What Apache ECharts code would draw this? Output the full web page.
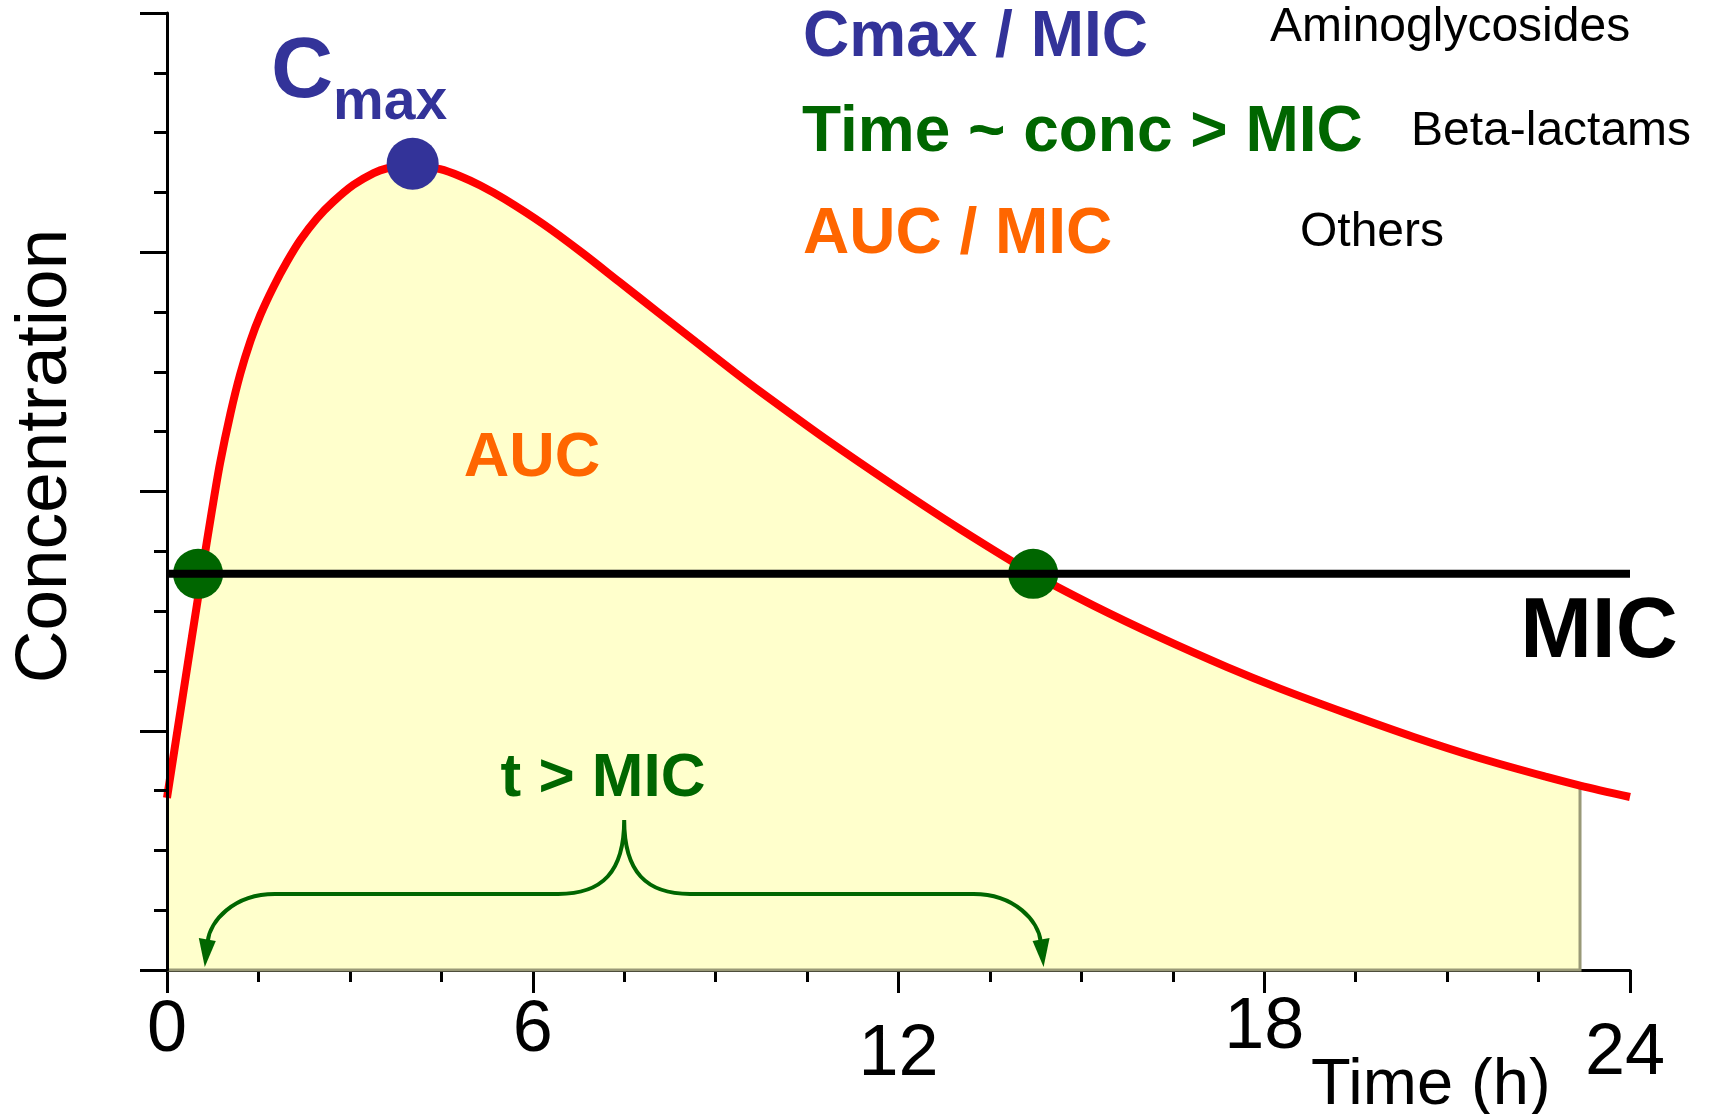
<!DOCTYPE html>
<html>
<head>
<meta charset="utf-8">
<title>PK/PD indices</title>
<script src="https://cdn.jsdelivr.net/npm/echarts@6/dist/echarts.min.js"></script>
<style>
  html, body { margin: 0; padding: 0; background: #fff; }
  #chart { width: 1712px; height: 1114px; }
</style>
</head>
<body>
<div id="chart"></div>
<script>
// values
const timeH = [0, 0.25, 0.57, 0.74, 0.87, 1.04, 1.20, 1.37, 1.53, 1.75, 1.97, 2.19, 2.46, 2.73,
  3.06, 3.39, 3.60, 4.03, 4.48, 4.81, 5.14, 5.54, 6.17, 6.80, 7.42, 8.05, 8.68, 9.31, 9.73,
  10.83, 11.92, 13.01, 14.21, 15.20, 16.29, 17.39, 18.26, 19.35, 20.45, 21.54, 22.63, 23.18, 24];
const concentration = [0.719, 1.13, 1.656, 1.925, 2.118, 2.325, 2.49, 2.63, 2.737, 2.857, 2.961, 3.052, 3.142, 3.212,
  3.282, 3.331, 3.350, 3.365, 3.347, 3.318, 3.279, 3.222, 3.118, 3.0, 2.876, 2.75, 2.624, 2.499, 2.418,
  2.215, 2.025, 1.843, 1.656, 1.523, 1.39, 1.266, 1.176, 1.073, 0.974, 0.885, 0.807, 0.771, 0.723];
const micLevel = 1.656;
const cmaxPoint = [4.03, 3.37];
const micCrossings = [0.51, 14.21];
const aucEndTime = 23.18;
const braceTimes = [0.62, 14.38];
const xTickLabels = ['0', '6', '12', '18', '24'];
const pkpdIndices = ['Cmax / MIC', 'Time ~ conc > MIC', 'AUC / MIC'];
const drugClasses = ['Aminoglycosides', 'Beta-lactams', 'Others'];

const FONT = '"Liberation Sans", Arial, Helvetica, sans-serif';
const BLUE = '#333399';
const GREEN = '#006600';
const ORANGE = '#FF6600';

const curve = timeH.map((t, i) => [t, concentration[i]]);
const aucPoints = curve.filter(p => p[0] <= aucEndTime);

// tick labels sit at uneven heights in the original
const labelStyle = { '12': 'low', '18': 'up', '24': 'right' };
const tickFont = { fontSize: 72, fontFamily: FONT, color: '#000' };

const chart = echarts.init(document.getElementById('chart'));

function txt(text, x, y, font, color, align, rotation) {
    return {
        type: 'text',
        x: x,
        y: y,
        rotation: rotation || 0,
        z: 100,
        style: {
            text: text,
            font: font,
            fill: color,
            align: align || 'left',
            textAlign: align || 'left',
            verticalAlign: 'middle',
            textVerticalAlign: 'middle'
        }
    };
}

const option = {
    animation: false,
    backgroundColor: '#fff',
    grid: { left: 167, right: 82, top: 13, bottom: 144 },
    xAxis: {
        type: 'value',
        min: 0,
        max: 24,
        interval: 6,
        axisLine: { show: true, onZero: false, lineStyle: { color: '#000', width: 3 } },
        axisTick: { show: true, length: 23, lineStyle: { color: '#000', width: 3 } },
        minorTick: { show: true, splitNumber: 4, length: 12, lineStyle: { color: '#000', width: 3 } },
        splitLine: { show: false },
        axisLabel: {
            margin: 61,
            verticalAlign: 'middle',
            formatter: value => {
                const label = xTickLabels[Math.round(value / 6)];
                return '{' + (labelStyle[label] || 'base') + '|' + label + '}';
            },
            rich: {
                base: Object.assign({}, tickFont),
                low: Object.assign({ padding: [48, 0, 0, 0] }, tickFont),
                up: Object.assign({ padding: [0, 0, 6, 0] }, tickFont),
                right: Object.assign({ padding: [46, 10, 0, 0] }, tickFont)
            }
        }
    },
    yAxis: {
        type: 'value',
        min: 0,
        max: 4,
        interval: 1,
        z: 10,
        axisLine: { show: true, onZero: false, lineStyle: { color: '#000', width: 3 } },
        axisTick: { show: true, length: 27, lineStyle: { color: '#000', width: 3 } },
        minorTick: { show: true, splitNumber: 4, length: 13, lineStyle: { color: '#000', width: 3 } },
        splitLine: { show: false },
        axisLabel: { show: false }
    },
    series: [
        {
            name: 'AUC',
            type: 'custom',
            z: 1,
            silent: true,
            data: [[0]],
            renderItem: (params, api) => {
                const pts = aucPoints.map(p => api.coord(p));
                const endBottom = api.coord([aucEndTime, 0]);
                const origin = api.coord([0, 0]);
                const endTop = pts[pts.length - 1];
                return {
                    type: 'group',
                    children: [
                        { type: 'polygon', shape: { points: pts.concat([endBottom, origin]) },
                          style: { fill: '#FFFFCC' } },
                        { type: 'polyline', shape: { points: [endTop, endBottom, origin] },
                          style: { stroke: '#999977', lineWidth: 3, fill: null } }
                    ]
                };
            }
        },
        {
            name: 'Concentration',
            type: 'line',
            z: 2,
            data: curve,
            smooth: 0.3,
            symbol: 'none',
            lineStyle: { color: '#FF0000', width: 8 }
        },
        {
            name: 'Cmax',
            type: 'scatter',
            z: 3,
            data: [cmaxPoint],
            symbolSize: 52,
            itemStyle: { color: BLUE, opacity: 1 }
        },
        {
            name: 'MIC crossing',
            type: 'scatter',
            z: 3,
            data: micCrossings.map(t => [t, micLevel]),
            symbolSize: 50,
            itemStyle: { color: GREEN, opacity: 1 }
        },
        {
            name: 'MIC',
            type: 'line',
            z: 4,
            data: [[0, micLevel], [24, micLevel]],
            symbol: 'none',
            lineStyle: { color: '#000', width: 8 }
        },
        {
            name: 't > MIC',
            type: 'custom',
            z: 5,
            silent: true,
            data: [braceTimes],
            renderItem: (params, api) => {
                const x0 = api.coord([api.value(0), 0])[0];
                const x1 = api.coord([api.value(1), 0])[0];
                const yAxisPx = api.coord([0, 0])[1];
                const xm = (x0 + x1) / 2;
                const yBar = yAxisPx - 76;
                const yPeak = yAxisPx - 150;
                const yTip = yAxisPx - 3;
                const yEnd = yTip - 26;
                const d = 'M' + (x0 + 3) + ' ' + yEnd +
                    ' C' + (x0 + 5) + ' ' + (yBar + 28) + ' ' + (x0 + 28) + ' ' + yBar + ' ' + (x0 + 70) + ' ' + yBar +
                    ' L' + (xm - 66) + ' ' + yBar +
                    ' C' + (xm - 22) + ' ' + yBar + ' ' + xm + ' ' + (yBar - 22) + ' ' + xm + ' ' + yPeak +
                    ' C' + xm + ' ' + (yBar - 22) + ' ' + (xm + 22) + ' ' + yBar + ' ' + (xm + 66) + ' ' + yBar +
                    ' L' + (x1 - 70) + ' ' + yBar +
                    ' C' + (x1 - 28) + ' ' + yBar + ' ' + (x1 - 5) + ' ' + (yBar + 28) + ' ' + (x1 - 3) + ' ' + yEnd;
                return {
                    type: 'group',
                    children: [
                        { type: 'path', shape: { pathData: d },
                          style: { stroke: GREEN, lineWidth: 4, fill: null } },
                        { type: 'polygon', shape: { points: [[x0 - 6, yEnd - 3], [x0 + 11, yEnd], [x0, yTip]] },
                          style: { fill: GREEN } },
                        { type: 'polygon', shape: { points: [[x1 + 6, yEnd - 3], [x1 - 11, yEnd], [x1, yTip]] },
                          style: { fill: GREEN } }
                    ]
                };
            }
        }
    ],
    graphic: [
        txt('Concentration', 46, 456, '73px ' + FONT, '#000', 'center', Math.PI / 2),
        txt('C', 271, 73, 'bold 86px ' + FONT, BLUE),
        txt('max', 333, 103, 'bold 57px ' + FONT, BLUE),
        txt(pkpdIndices[0], 803, 38, 'bold 64px ' + FONT, BLUE),
        txt(pkpdIndices[1], 802, 133, 'bold 64px ' + FONT, GREEN),
        txt(pkpdIndices[2], 803, 235, 'bold 64px ' + FONT, ORANGE),
        txt(drugClasses[0], 1270, 28, '48px ' + FONT, '#000'),
        txt(drugClasses[1], 1411, 132, '48px ' + FONT, '#000'),
        txt(drugClasses[2], 1300, 233, '48px ' + FONT, '#000'),
        txt('AUC', 532, 459, 'bold 63px ' + FONT, ORANGE, 'center'),
        txt('MIC', 1599, 633, 'bold 86px ' + FONT, '#000', 'center'),
        txt('t > MIC', 603, 779, 'bold 62px ' + FONT, GREEN, 'center'),
        txt('Time (h)', 1311, 1086, '65px ' + FONT, '#000')
    ]
};

chart.setOption(option);
</script>
</body>
</html>
